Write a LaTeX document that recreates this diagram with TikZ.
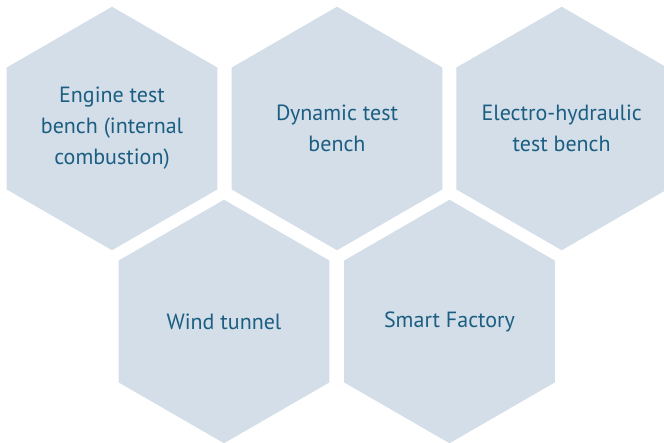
\documentclass[tikz,border=0pt]{standalone}
\usepackage{fontspec}
\setmainfont{PT Sans}
\usetikzlibrary{shapes.geometric}
\definecolor{hexfill}{HTML}{D3DEE8}
\definecolor{hextext}{HTML}{1B5E82}
\begin{document}
\begin{tikzpicture}[
  x=1pt, y=1pt,
  hexa/.style={regular polygon, regular polygon sides=6, shape border rotate=30, fill=hexfill, minimum size=243.5pt, inner sep=-25pt, align=center, text=hextext, font=\fontsize{22}{31}\selectfont},
  node distance=225pt
]
\useasboundingbox (0,0) rectangle (664,443);
\node[hexa] (engine) at (112,314.5) {Engine test\\bench (internal\\combustion)};
\node[hexa, right of=engine] (dynamic) {Dynamic test\\bench};
\node[hexa, right of=dynamic, node distance=224.7pt] (electro) {Electro-hydraulic\\test bench};

\node[hexa, below of=engine, node distance=193pt, xshift=112pt] (wind) {Wind tunnel};
\node[hexa, right of=wind, node distance=225.5pt] (smart) {Smart Factory};
\end{tikzpicture}
\end{document}
